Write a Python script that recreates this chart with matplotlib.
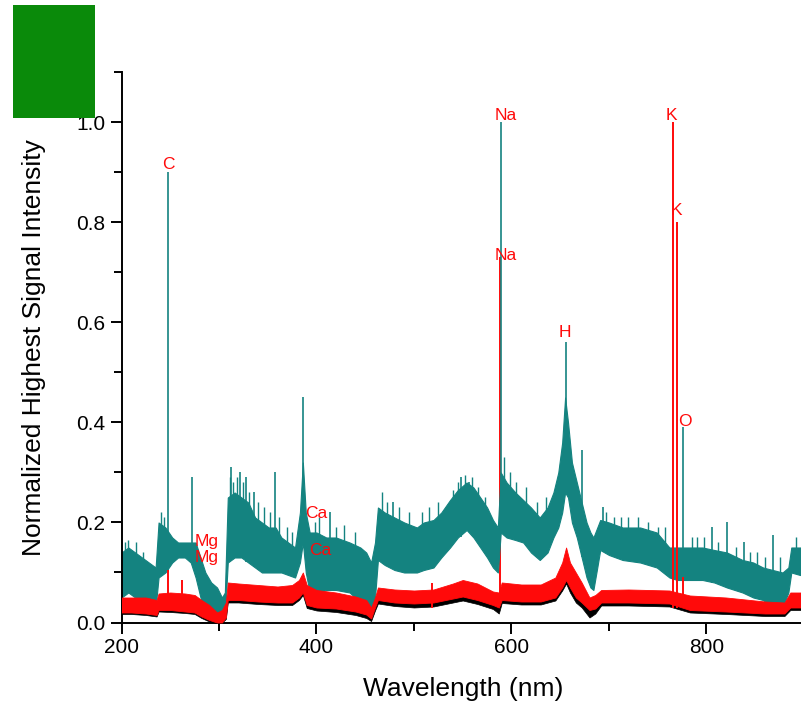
import matplotlib
matplotlib.use("Agg")
import matplotlib.pyplot as plt
from matplotlib.patches import Rectangle
from matplotlib.ticker import MultipleLocator, FormatStrFormatter

plt.rcParams['font.family'] = ['Liberation Sans', 'DejaVu Sans']

# ---- data (wavelength in nm, normalized intensity) ----
# teal spectrum: upper / lower edge of the noisy band
teal_nm = [200, 207, 214, 221, 228, 235, 238, 245, 252, 258,
           265, 271, 276, 281, 286, 292, 298, 303, 306, 309,
           316, 323, 330, 337, 344, 351, 358, 364, 371, 378,
           383, 386, 389, 393, 400, 410, 420, 434, 445, 451,
           456, 460, 463, 470, 480, 490, 503, 510, 520, 528,
           537, 545, 554, 561, 568, 575, 581, 586, 589, 595,
           604, 612, 620, 629, 637, 643, 648, 652, 655, 658,
           662, 667, 672, 677, 681, 684, 688, 691, 700, 714,
           732, 749, 762, 770, 783, 796, 808, 821, 837, 848,
           858, 868, 878, 884, 887, 896, 900]
teal_hi = [0.14, 0.15, 0.14, 0.13, 0.12, 0.11, 0.20, 0.19, 0.17, 0.16,
           0.16, 0.16, 0.16, 0.13, 0.10, 0.08, 0.07, 0.05, 0.06, 0.25,
           0.26, 0.25, 0.24, 0.21, 0.20, 0.19, 0.19, 0.17, 0.16, 0.15,
           0.22, 0.32, 0.22, 0.18, 0.18, 0.17, 0.17, 0.16, 0.15, 0.14,
           0.12, 0.16, 0.23, 0.22, 0.21, 0.20, 0.19, 0.20, 0.205, 0.22,
           0.245, 0.265, 0.28, 0.27, 0.25, 0.23, 0.205, 0.19, 0.30, 0.28,
           0.26, 0.245, 0.23, 0.21, 0.23, 0.26, 0.30, 0.36, 0.45, 0.40,
           0.32, 0.28, 0.24, 0.20, 0.18, 0.17, 0.19, 0.205, 0.20, 0.19,
           0.19, 0.18, 0.15, 0.15, 0.15, 0.15, 0.145, 0.14, 0.125, 0.12,
           0.11, 0.105, 0.10, 0.11, 0.15, 0.15, 0.15]
teal_lo = [0.05, 0.06, 0.05, 0.04, 0.04, 0.03, 0.09, 0.10, 0.12, 0.13,
           0.13, 0.12, 0.09, 0.05, 0.02, 0.01, 0.0, 0.0, 0.01, 0.12,
           0.13, 0.13, 0.12, 0.11, 0.10, 0.10, 0.10, 0.10, 0.095, 0.09,
           0.12, 0.16, 0.10, 0.06, 0.06, 0.065, 0.065, 0.06, 0.04, 0.025,
           0.015, 0.05, 0.125, 0.115, 0.105, 0.10, 0.10, 0.105, 0.11, 0.13,
           0.15, 0.17, 0.185, 0.17, 0.15, 0.13, 0.11, 0.10, 0.18, 0.17,
           0.165, 0.16, 0.14, 0.125, 0.14, 0.17, 0.19, 0.22, 0.26, 0.25,
           0.20, 0.17, 0.13, 0.09, 0.07, 0.065, 0.11, 0.145, 0.135, 0.125,
           0.12, 0.11, 0.09, 0.085, 0.085, 0.085, 0.08, 0.07, 0.06, 0.05,
           0.045, 0.03, 0.03, 0.06, 0.10, 0.095, 0.095]
# sharp teal lines (position, top, where the line meets the band)
teal_spike_nm = [248, 272, 312, 322, 328, 336, 357, 386, 414, 478,
                 548, 556, 589, 656, 672, 694, 776, 806, 821, 839, 868]
teal_spike_val = [0.90, 0.29, 0.31, 0.30, 0.29, 0.26, 0.30, 0.45, 0.22, 0.24,
                  0.29, 0.28, 1.0, 0.56, 0.345, 0.23, 0.39, 0.19, 0.20, 0.16, 0.175]
teal_spike_base = [0.10, 0.13, 0.13, 0.13, 0.12, 0.11, 0.10, 0.16, 0.07, 0.11,
                   0.17, 0.18, 0.18, 0.26, 0.13, 0.14, 0.085, 0.08, 0.07, 0.06, 0.03]
# small noise spikes sticking out of the teal band
teal_noise_nm = [204, 207, 215, 222, 241, 244, 311, 314, 318, 325,
                 331, 340, 346, 352, 362, 370, 375, 398, 403, 420,
                 428, 440, 467, 472, 485, 495, 508, 515, 525, 540,
                 545, 552, 560, 566, 573, 592, 598, 605, 615, 626,
                 635, 697, 705, 712, 720, 730, 740, 750, 757, 785,
                 790, 797, 812, 830, 845, 852, 860, 875, 892]
teal_noise_val = [0.16, 0.165, 0.16, 0.14, 0.22, 0.21, 0.29, 0.28, 0.29, 0.28,
                  0.26, 0.24, 0.23, 0.22, 0.21, 0.19, 0.18, 0.2, 0.21, 0.19,
                  0.195, 0.18, 0.26, 0.24, 0.23, 0.22, 0.22, 0.23, 0.24, 0.265,
                  0.28, 0.295, 0.29, 0.27, 0.25, 0.33, 0.30, 0.28, 0.27, 0.24,
                  0.25, 0.22, 0.21, 0.21, 0.21, 0.21, 0.2, 0.19, 0.19, 0.17,
                  0.17, 0.17, 0.16, 0.15, 0.14, 0.14, 0.13, 0.13, 0.17]

# red and black spectra
red_nm = [200, 210, 225, 236, 238, 250, 265, 275, 282, 290,
          298, 303, 307, 309, 320, 340, 360, 375, 382, 386,
          390, 400, 420, 440, 451, 456, 460, 463, 480, 500,
          520, 540, 550, 565, 581, 587, 590, 610, 630, 645,
          652, 656, 660, 666, 672, 680, 686, 692, 720, 762,
          783, 820, 860, 880, 886, 900]
red_hi = [0.05, 0.05, 0.05, 0.045, 0.058, 0.06, 0.058, 0.055, 0.045, 0.035,
          0.02, 0.025, 0.04, 0.08, 0.078, 0.075, 0.072, 0.075, 0.085, 0.10,
          0.075, 0.065, 0.06, 0.052, 0.045, 0.03, 0.05, 0.07, 0.066, 0.064,
          0.066, 0.078, 0.085, 0.078, 0.062, 0.06, 0.08, 0.076, 0.076, 0.09,
          0.12, 0.15, 0.12, 0.10, 0.08, 0.05, 0.055, 0.065, 0.066, 0.064,
          0.054, 0.05, 0.042, 0.04, 0.06, 0.06]
red_lo = [0.02, 0.02, 0.018, 0.015, 0.025, 0.025, 0.022, 0.02, 0.012, 0.005,
          0.0, 0.0, 0.01, 0.045, 0.045, 0.042, 0.04, 0.04, 0.05, 0.06,
          0.035, 0.03, 0.028, 0.022, 0.016, 0.008, 0.03, 0.045, 0.04, 0.038,
          0.04, 0.048, 0.052, 0.045, 0.035, 0.03, 0.045, 0.042, 0.042, 0.05,
          0.07, 0.085, 0.07, 0.05, 0.04, 0.025, 0.028, 0.04, 0.04, 0.038,
          0.025, 0.022, 0.018, 0.018, 0.03, 0.03]
black_hi = [0.03, 0.03, 0.028, 0.025, 0.035, 0.035, 0.032, 0.03, 0.02, 0.012,
            0.006, 0.008, 0.018, 0.052, 0.052, 0.05, 0.048, 0.048, 0.058, 0.068,
            0.042, 0.038, 0.036, 0.03, 0.024, 0.014, 0.038, 0.052, 0.048, 0.046,
            0.048, 0.056, 0.06, 0.052, 0.042, 0.038, 0.052, 0.05, 0.05, 0.058,
            0.078, 0.09, 0.075, 0.055, 0.045, 0.03, 0.034, 0.048, 0.048, 0.046,
            0.032, 0.03, 0.026, 0.026, 0.038, 0.038]
black_lo = [0.017, 0.017, 0.015, 0.012, 0.022, 0.021, 0.019, 0.017, 0.009, 0.002,
            0.0, 0.0, 0.007, 0.04, 0.04, 0.037, 0.035, 0.035, 0.045, 0.055,
            0.029, 0.024, 0.021, 0.015, 0.009, 0.003, 0.024, 0.038, 0.033, 0.03,
            0.032, 0.04, 0.044, 0.037, 0.027, 0.018, 0.039, 0.036, 0.036, 0.044,
            0.064, 0.078, 0.06, 0.04, 0.03, 0.01, 0.018, 0.034, 0.034, 0.032,
            0.02, 0.017, 0.013, 0.013, 0.025, 0.025]
red_spike_nm = [248, 262, 518, 766, 769.5, 776]
red_spike_val = [0.105, 0.085, 0.08, 1.0, 0.8, 0.09]
red_na_nm = 588.0
red_na_val = 0.73

# element labels
label_text = ['C', 'Mg', 'Mg', 'Ca', 'Ca', 'Na', 'Na', 'H', 'K', 'K', 'O']
label_x = [248, 287, 287, 400, 404, 594, 594, 655, 764, 769, 778]
label_y = [0.915, 0.161, 0.129, 0.217, 0.143, 1.013, 0.733, 0.579, 1.013, 0.823, 0.401]

TEAL = '#148380'
RED = '#ff0a0a'

fig = plt.figure(figsize=(8.01, 7.12), dpi=100)
ax = fig.add_axes([0.1517, 0.1257, 0.852, 0.7725])

# teal spectrum
ax.vlines(red_na_nm, 0.03, red_na_val, color=RED, lw=1.4, zorder=0.9)
ax.fill_between(teal_nm, teal_lo, teal_hi, color=TEAL, lw=0.8, zorder=1)
ax.vlines(teal_spike_nm, teal_spike_base, teal_spike_val, color=TEAL, lw=1.2, zorder=1)
# noise spikes only poke a little way out of the band
noise_bottom = [v - 0.06 for v in teal_noise_val]
ax.vlines(teal_noise_nm, noise_bottom, teal_noise_val, color=TEAL, lw=1.0, zorder=1)

# black and red spectra
ax.fill_between(red_nm, black_lo, black_hi, color='black', lw=0.5, zorder=2)
ax.fill_between(red_nm, red_lo, red_hi, color=RED, lw=0.6, zorder=3)
ax.vlines(red_spike_nm, 0.03, red_spike_val, color=RED, lw=1.4, zorder=3)

for t, x, y in zip(label_text, label_x, label_y):
    ax.text(x, y, t, color=RED, fontsize=12.5, ha='center', va='center', zorder=5)

ax.set_xlim(200, 900)
ax.set_ylim(0, 1.1)
ax.xaxis.set_major_locator(MultipleLocator(200))
ax.xaxis.set_minor_locator(MultipleLocator(100))
ax.yaxis.set_major_locator(MultipleLocator(0.2))
ax.yaxis.set_minor_locator(MultipleLocator(0.1))
ax.yaxis.set_major_formatter(FormatStrFormatter('%.1f'))
ax.tick_params(which='major', direction='out', length=8, width=1.4, labelsize=15)
ax.tick_params(which='minor', direction='out', length=6, width=1.4)
ax.spines['top'].set_visible(False)
ax.spines['right'].set_visible(False)
ax.spines['left'].set_linewidth(1.4)
ax.spines['bottom'].set_linewidth(1.4)

ax.set_xlabel('Wavelength (nm)', fontsize=19, labelpad=14)
ax.set_ylabel('Normalized Highest Signal Intensity', fontsize=19, labelpad=22)

# green block in the top-left corner
fig.patches.append(Rectangle((0.0162, 0.834), 0.1024, 0.159, transform=fig.transFigure,
                             facecolor='#0a8a0a', edgecolor='none', figure=fig))

plt.savefig('out.png', dpi=100)
plt.close()
